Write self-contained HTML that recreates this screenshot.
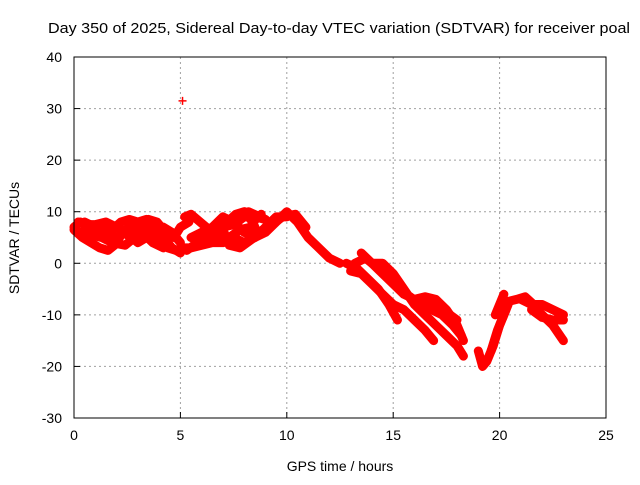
<!DOCTYPE html>
<html><head><meta charset="utf-8"><style>
body{margin:0;background:#fff}
text{font-family:"Liberation Sans",sans-serif;font-size:14px;fill:#000}
</style></head><body>
<svg id="chart" width="640" height="480" xmlns="http://www.w3.org/2000/svg">
<rect width="640" height="480" fill="#fff"/>
<text x="339" y="33" text-anchor="middle" textLength="582" lengthAdjust="spacingAndGlyphs" style="font-size:15px">Day 350 of 2025, Sidereal Day-to-day VTEC variation (SDTVAR) for receiver poal</text>
<text x="340" y="471" text-anchor="middle">GPS time / hours</text>
<text transform="translate(19,238) rotate(-90)" text-anchor="middle">SDTVAR / TECUs</text>
<g id="grid"></g><g id="marks"></g><g id="axes"></g>
</svg>
<script>
const xTicks=[0,5,10,15,20,25];
const yTicks=[-30,-20,-10,0,10,20,30,40];
const track1=[[0,7],[0.3,8],[0.6,7],[1,6],[1.4,7],[1.8,6.5],[2.2,8],[2.6,8.5],[3,8],[3.4,8.5],[3.8,7],[4.2,5],[4.6,3],[5,2]];
const track2=[[0,6.5],[0.4,5],[0.8,4],[1.2,3],[1.6,2.5],[1.9,3.5],[2.3,6],[2.7,5],[3,4],[3.4,5],[3.8,6],[4.2,7],[4.6,6],[5,4]];
const track3=[[0.2,8],[0.6,7.5],[1,7.5],[1.5,8],[2,7],[2.5,6],[3,7],[3.5,8.5],[3.9,8],[4.3,6],[4.7,5],[5,7],[5.4,8]];
const track4=[[5,3],[5.5,3],[6,3.5],[6.5,4],[7,4],[7.5,5],[8,4],[8.5,5],[9,6],[9.5,8],[10,10],[10.5,8],[11,5],[11.5,3],[12,1],[12.5,0]];
const track5=[[5.5,5],[6,6],[6.5,7],[7,9],[7.5,8],[8,6],[8.5,5],[9,7],[9.5,9],[10,9]];
const track6=[[5.2,9],[5.5,9.5],[6.5,6],[7,7],[7.5,7.5],[8,9],[8.5,9],[9,8.5],[8.2,10],[8.6,6]];
const track7=[[12.8,0],[13.3,-1],[13.8,-3],[14.3,-5],[14.8,-8],[15.2,-11]];
const track8=[[13,-1.5],[13.5,-2],[14,-4],[14.5,-6],[15,-8],[15.5,-9],[16,-11],[16.5,-13],[16.9,-15]];
const track9=[[13.2,0],[13.7,1],[14,0],[14.5,-2],[15,-4],[15.5,-6],[16,-7],[16.5,-6.5],[17,-7],[17.5,-9],[18,-12],[18.3,-15]];
const track10=[[13.5,2],[14,0],[14.5,0],[15,-2],[15.5,-5],[16,-8],[16.5,-10],[17,-12],[17.5,-14],[18,-16],[18.3,-18]];
const track11=[[16.5,-7],[17,-8],[17.5,-9.5],[18,-11]];
const track12=[[19,-17],[19.2,-20],[19.4,-19],[19.7,-16],[20,-12],[20.3,-9]];
const track13=[[19.6,-17],[19.9,-13],[20.2,-10],[20.4,-8]];
const track14=[[19.8,-10],[20.2,-6]];
const track15=[[20.3,-7.5],[20.8,-7],[21.2,-6.5],[21.6,-8],[22,-8],[22.5,-9],[23,-10]];
const track16=[[21,-7],[21.5,-8],[22,-10],[22.5,-12],[23,-15]];
const track17=[[21.5,-9],[22,-10.5],[22.5,-11],[23,-11]];
const track18=[[0.3,6],[0.8,5.5],[1.3,5],[1.8,4],[2.4,3.5],[3,5.5],[3.5,6.5],[4,5],[4.4,3],[4.8,2.5]];
const track19=[[0.5,8],[1,7],[1.5,6],[2,5],[2.6,7],[3.2,6],[3.7,4],[4.2,3]];
const track20=[[5.3,2.5],[5.8,4],[6.3,4.5],[6.8,5.5],[7.3,5],[7.8,6.5],[8.3,7]];
const track21=[[6,5],[6.5,6],[7,6.5],[7.3,3.5],[7.8,3],[8.3,4.5],[8.8,6],[9.3,7.5],[9.8,9],[10.4,9.5],[10.9,7]];
const track22=[[7.2,8],[7.6,9.5],[8,10],[8.4,8],[8.8,9.5]];
const track23=[[15.8,-6.5],[16.2,-8],[16.8,-9],[17.3,-10],[17.8,-12],[18.2,-14]];
const outliers=[[5.1,31.5]];
const tracks=[track1,track2,track3,track4,track5,track6,track7,track8,track9,track10,track11,track12,track13,track14,track15,track16,track17,track18,track19,track20,track21,track22,track23];
const X0=74,X1=606,Y0=418,Y1=57;
function sx(h){return X0+(h-0)/(25-0)*(X1-X0);}
function sy(v){return Y0-(v+30)/70*(Y0-Y1);}
const NS="http://www.w3.org/2000/svg";
function mk(tag,attrs,parent){const e=document.createElementNS(NS,tag);for(const k in attrs)e.setAttribute(k,attrs[k]);parent.appendChild(e);return e;}
const grid=document.getElementById('grid'),axes=document.getElementById('axes'),marks=document.getElementById('marks');
xTicks.forEach(t=>{
  if(t>0&&t<25){const l=mk('line',{x1:sx(t),x2:sx(t),y1:Y1,y2:Y0,stroke:'#a0a0a0','stroke-dasharray':'2,3'},grid);
  
  }
  const tk=mk('line',{x1:sx(t),x2:sx(t),y1:Y0,y2:Y0-6,stroke:'#000'},axes);
  
  
  const tx=mk('text',{x:sx(t),y:Y0+22,'text-anchor':'middle'},axes);tx.textContent=t;
  
  
});
yTicks.forEach(t=>{
  if(t>-30&&t<40){const l=mk('line',{x1:X0,x2:X1,y1:sy(t),y2:sy(t),stroke:'#a0a0a0','stroke-dasharray':'2,3'},grid);
  
  }
  const tk=mk('line',{x1:X0,x2:X0+6,y1:sy(t),y2:sy(t),stroke:'#000'},axes);
  
  
  const tx=mk('text',{x:X0-12,y:sy(t)+5,'text-anchor':'end'},axes);tx.textContent=t;
  
  
});
const frame=mk('rect',{x:X0,y:Y1,width:X1-X0,height:Y0-Y1,fill:'none',stroke:'#000'},axes);


tracks.forEach(tr=>{
  const p=mk('polyline',{points:tr.map(d=>sx(d[0])+','+sy(d[1])).join(' '),fill:'none',stroke:'#f00','stroke-width':9,'stroke-linejoin':'round','stroke-linecap':'round'},marks);
  
  
});
tracks.concat([outliers]).forEach(tr=>tr.forEach(d=>{
  const x=sx(d[0]),y=sy(d[1]);
  const m=mk('path',{d:`M${x-4},${y}H${x+4}M${x},${y-4}V${y+4}`,stroke:'#f00','stroke-width':1.5},marks);
  
  
}));
</script>
</body></html>
